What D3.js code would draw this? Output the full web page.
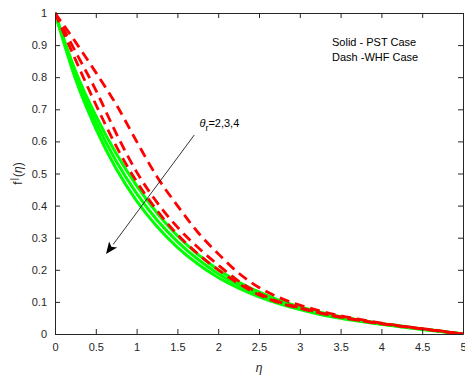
<!DOCTYPE html>
<html><head><meta charset="utf-8">
<script src="https://cdn.jsdelivr.net/npm/d3@7/dist/d3.min.js"></script>
<style>
body{margin:0;background:#fff;}
svg{display:block;font-family:"Liberation Sans",Arial,sans-serif;}
</style></head>
<body><svg id="c" width="465" height="376"></svg>
<script>
const eta = [0,0.25,0.5,0.75,1,1.25,1.5,1.75,2,2.25,2.5,2.75,3,3.25,3.5,3.75,4,4.25,4.5,4.75,5];
// Solid - PST case (theta_r = 2,3,4)
const pstG1 = [1,0.795,0.64,0.515,0.415,0.335,0.27,0.218,0.176,0.143,0.116,0.094,0.076,0.061,0.049,0.039,0.030,0.022,0.014,0.007,0];
const pstG2 = [1,0.807,0.66,0.538,0.438,0.355,0.288,0.233,0.188,0.152,0.123,0.099,0.080,0.064,0.051,0.041,0.031,0.023,0.015,0.008,0];
const pstG3 = [1,0.82,0.68,0.562,0.462,0.377,0.306,0.248,0.20,0.162,0.131,0.105,0.085,0.068,0.054,0.043,0.033,0.025,0.016,0.008,0];
// Dash - WHF case (theta_r = 2,3,4)
const whfR1 = [1,0.855,0.715,0.585,0.475,0.385,0.31,0.25,0.20,0.157,0.122,0.097,0.08,0.065,0.052,0.041,0.032,0.024,0.016,0.008,0];
const whfR2 = [1,0.88,0.76,0.625,0.505,0.41,0.333,0.27,0.215,0.165,0.127,0.10,0.082,0.066,0.053,0.042,0.032,0.024,0.016,0.008,0];
const whfR3 = [1,0.91,0.815,0.715,0.60,0.49,0.40,0.317,0.25,0.19,0.145,0.113,0.09,0.072,0.057,0.045,0.034,0.025,0.017,0.009,0];
const xTicks = [0,0.5,1,1.5,2,2.5,3,3.5,4,4.5,5];
const xTickLabels = ["0","0.5","1","1.5","2","2.5","3","3.5","4","4.5","5"];
const yTicks = [0,0.1,0.2,0.3,0.4,0.5,0.6,0.7,0.8,0.9,1];
const yTickLabels = ["0","0.1","0.2","0.3","0.4","0.5","0.6","0.7","0.8","0.9","1"];
const arrowFrom = [1.707, 0.62];
const arrowTo = [0.625, 0.249];
const labelAt = [1.77, 0.645];
const noteAt = [3.395, 0.897];

const svg = d3.select("#c");
const L=55,R=463,T=13,B=334;
const x = d3.scaleLinear().domain([0,5]).range([L,R]);
const y = d3.scaleLinear().domain([0,1]).range([B,T]);
const ax="#262626";

const plot = svg.append("g");
const defs = svg.append("defs");
defs.append("clipPath").attr("id","clip").append("rect").attr("x",L).attr("y",T-3).attr("width",R-L+2).attr("height",B-T+3);

const line = d3.line().x((d,i)=>x(eta[i])).y(d=>y(d)).curve(d3.curveMonotoneX);
const g = plot.append("g").attr("clip-path","url(#clip)");
[pstG1,pstG2,pstG3].forEach(s=>{
  g.append("path").attr("d",line(s)).attr("fill","none").attr("stroke","#00ff00").attr("stroke-width",3);
});
[whfR1,whfR2,whfR3].forEach(s=>{
  g.append("path").attr("d",line(s)).attr("fill","none").attr("stroke","#ff0000").attr("stroke-width",2.8).attr("stroke-dasharray","10,6");
});

// axes
const fs = 11;
const axB = d3.axisBottom(x).tickValues(xTicks).tickFormat((d,i)=>xTickLabels[i]).tickSizeInner(-5).tickSizeOuter(0).tickPadding(9);
const axL = d3.axisLeft(y).tickValues(yTicks).tickFormat((d,i)=>yTickLabels[i]).tickSizeInner(-5).tickSizeOuter(0).tickPadding(8);
const axT = d3.axisTop(x).tickValues(xTicks).tickFormat("").tickSizeInner(-5).tickSizeOuter(0);
const axR = d3.axisRight(y).tickValues(yTicks).tickFormat("").tickSizeInner(-5).tickSizeOuter(0);
function style(sel){
  sel.selectAll("path").attr("stroke",ax).attr("stroke-width",1);
  sel.selectAll("line").attr("stroke",ax).attr("stroke-width",1);
  sel.selectAll("text").attr("fill",ax).style("font-size",fs+"px").style("font-family","'Liberation Sans',Arial,sans-serif");
}
style(svg.append("g").attr("transform",`translate(0,${B})`).call(axB));
style(svg.append("g").attr("transform",`translate(${L},0)`).call(axL));
style(svg.append("g").attr("transform",`translate(0,${T})`).call(axT));
style(svg.append("g").attr("transform",`translate(${R},0)`).call(axR));

// axis labels
svg.append("text").attr("x",(L+R)/2).attr("y",372).attr("text-anchor","middle")
  .style("font-size","12px").style("font-style","italic").attr("fill",ax).text("η");
const yl = svg.append("text").attr("transform",`translate(22,${(T+B)/2}) rotate(-90)`).attr("text-anchor","middle")
  .style("font-size","12px").attr("fill",ax);
yl.append("tspan").text("f");
yl.append("tspan").attr("dy",-5).attr("dx",1).style("font-size","9px").text("|");
yl.append("tspan").attr("dy",5).attr("dx",1).text("(");
yl.append("tspan").style("font-style","italic").text("η");
yl.append("tspan").text(")");

// annotations
svg.append("text").attr("x",x(noteAt[0])).attr("y",y(noteAt[1])).attr("fill","#000").style("font-size","11px").text("Solid - PST Case");
svg.append("text").attr("x",x(noteAt[0])).attr("y",y(noteAt[1])+15).attr("fill","#000").style("font-size","11px").text("Dash -WHF Case");

const th = svg.append("text").attr("x",x(labelAt[0])).attr("y",y(labelAt[1])).attr("fill","#000").style("font-size","11px");
th.append("tspan").style("font-style","italic").text("θ");
th.append("tspan").attr("dy",4).style("font-size","9px").text("r");
th.append("tspan").attr("dy",-4).text("=2,3,4");

// arrow
const x1=x(arrowFrom[0]),y1=y(arrowFrom[1]),x2=x(arrowTo[0]),y2=y(arrowTo[1]);
const ang=Math.atan2(y2-y1,x2-x1);
const hl=12, hw=5;
const bx=x2-hl*Math.cos(ang), by=y2-hl*Math.sin(ang);
svg.append("line").attr("x1",x1).attr("y1",y1).attr("x2",bx).attr("y2",by).attr("stroke","#000").attr("stroke-width",0.8);
const px=-Math.sin(ang), py=Math.cos(ang);
const inset = 3;
const ix=x2-(hl-inset)*Math.cos(ang), iy=y2-(hl-inset)*Math.sin(ang);
svg.append("path").attr("d",`M${x2},${y2}L${bx+hw*px},${by+hw*py}L${ix},${iy}L${bx-hw*px},${by-hw*py}Z`).attr("fill","#000");
</script></body></html>
